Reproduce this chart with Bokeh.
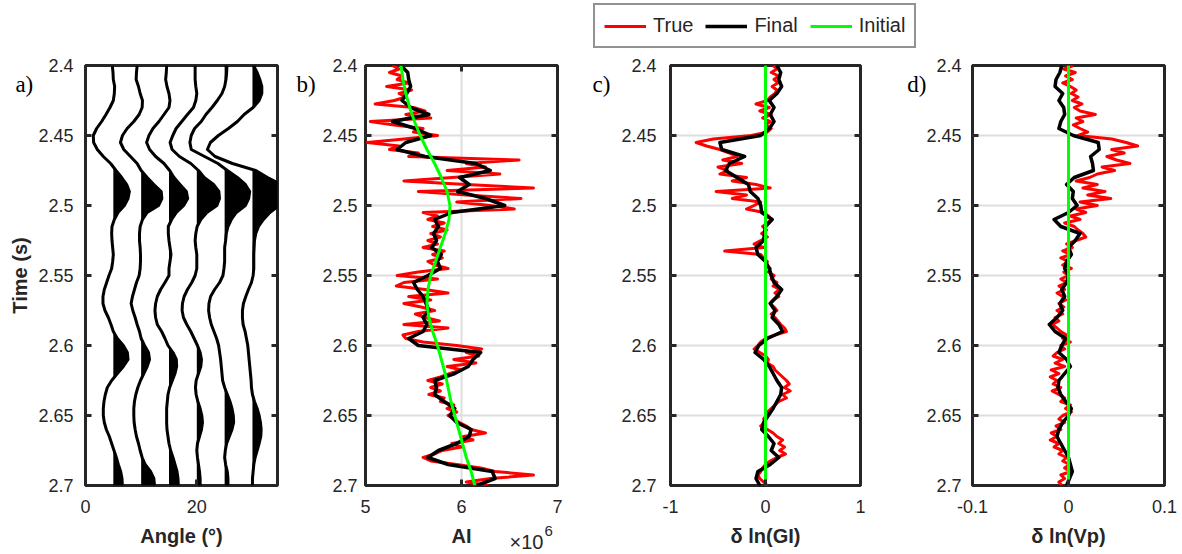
import numpy as np
from bokeh.plotting import figure
from bokeh.models import Range1d, FixedTicker, Label, Legend, LegendItem
from bokeh.layouts import column, row
from bokeh.embed import file_html
from bokeh.resources import INLINE

# ---------------- data ----------------
TIME_TICKS = [2.4, 2.45, 2.5, 2.55, 2.6, 2.65, 2.7]
TIME_LABELS = ["2.4", "2.45", "2.5", "2.55", "2.6", "2.65", "2.7"]

# sample times (regular grids)
TIME_W = np.round(np.linspace(2.4, 2.7, 61), 4)     # 5 ms: wiggles / final models
TIME_T = np.round(np.linspace(2.4, 2.7, 121), 5)    # 2.5 ms: true logs
TIME_I = np.round(np.linspace(2.4, 2.7, 31), 4)     # 10 ms: initial AI model
TIME_ENDS = [2.4, 2.7]

# a) angle gather (amplitudes, arbitrary units)
TRACE_ANGLES = [5, 10, 15, 20, 25, 30]
TRACE_05 = [-0.03,-0.01,0.00,0.04,0.03,0.00,-0.10,-0.22,-0.35,-0.50,-0.60,-0.59,-0.48,-0.30,-0.08,0.08,0.25,0.40,0.48,0.44,0.33,0.14,0.03,-0.04,-0.05,-0.04,-0.02,0.00,-0.02,-0.05,
            -0.13,-0.20,-0.27,-0.31,-0.31,-0.25,-0.15,-0.07,0.00,0.12,0.30,0.42,0.44,0.30,0.12,-0.05,-0.18,-0.24,-0.28,-0.30,-0.30,-0.27,-0.21,-0.12,-0.05,0.02,0.09,0.15,0.22,0.26,0.27]
TRACE_10 = [-0.12,-0.14,-0.15,-0.08,-0.03,0.04,0.03,-0.06,-0.22,-0.42,-0.56,-0.62,-0.52,-0.32,-0.12,0.00,0.18,0.38,0.60,0.62,0.52,0.18,0.04,-0.03,-0.05,-0.05,-0.03,-0.02,-0.02,-0.03,
            -0.06,-0.14,-0.20,-0.26,-0.30,-0.25,-0.18,-0.12,-0.05,0.00,0.10,0.22,0.25,0.18,0.08,-0.02,-0.10,-0.16,-0.20,-0.22,-0.22,-0.21,-0.18,-0.14,-0.08,-0.03,0.03,0.12,0.28,0.38,0.40]
TRACE_15 = [-0.07,-0.08,-0.10,-0.06,0.00,0.03,0.00,-0.15,-0.30,-0.48,-0.60,-0.67,-0.58,-0.40,-0.15,0.02,0.15,0.33,0.52,0.56,0.44,0.22,0.08,-0.02,-0.02,0.00,0.03,0.06,0.03,0.00,
            0.00,-0.12,-0.25,-0.35,-0.40,-0.42,-0.40,-0.35,-0.22,-0.12,-0.03,0.12,0.22,0.23,0.18,0.10,0.02,-0.03,-0.05,-0.07,-0.07,-0.07,-0.06,-0.03,0.00,0.05,0.12,0.18,0.24,0.27,0.28]
TRACE_20 = [-0.05,-0.05,-0.05,-0.03,0.00,-0.03,-0.10,-0.28,-0.45,-0.62,-0.72,-0.80,-0.74,-0.52,-0.18,0.05,0.22,0.50,0.66,0.68,0.60,0.30,0.12,0.01,-0.03,-0.05,-0.03,0.00,0.00,0.00,
            -0.05,-0.15,-0.28,-0.38,-0.43,-0.44,-0.40,-0.30,-0.18,-0.08,0.02,0.10,0.14,0.12,0.05,-0.02,-0.04,-0.02,0.03,0.10,0.15,0.17,0.14,0.08,0.02,0.00,0.02,0.05,0.08,0.10,0.10]
TRACE_25 = [0.07,0.06,0.04,0.00,-0.08,-0.22,-0.38,-0.56,-0.70,-0.90,-1.00,-1.04,-1.00,-0.60,-0.20,0.08,0.38,0.62,0.75,0.72,0.62,0.35,0.20,0.10,0.05,0.03,0.00,0.00,0.00,-0.02,
            -0.05,-0.15,-0.30,-0.42,-0.47,-0.48,-0.45,-0.40,-0.32,-0.24,-0.18,-0.15,-0.12,-0.10,-0.08,-0.06,0.00,0.08,0.16,0.22,0.26,0.27,0.22,0.14,0.06,0.02,0.00,0.03,0.08,0.10,0.10]
TRACE_30 = [0.03,0.14,0.22,0.28,0.28,0.20,0.02,-0.25,-0.45,-0.72,-1.02,-1.26,-1.35,-1.12,-0.60,0.10,0.45,0.85,0.95,0.92,0.80,0.52,0.33,0.18,0.10,0.06,0.05,0.04,0.04,0.04,
            0.02,-0.03,-0.12,-0.20,-0.27,-0.30,-0.30,-0.28,-0.22,-0.18,-0.14,-0.12,-0.10,-0.08,-0.06,-0.04,-0.03,0.00,0.06,0.14,0.20,0.24,0.26,0.25,0.20,0.14,0.08,0.04,0.02,0.00,0.00]

# b) acoustic impedance (x 1e6)
AI_TRUE = [5.28,5.35,5.25,5.38,5.33,5.45,5.22,5.48,5.35,5.42,5.30,5.10,5.50,5.62,5.42,5.68,5.05,5.30,5.60,5.50,
           5.75,5.40,5.02,5.35,5.25,5.55,5.45,6.60,6.05,6.25,5.85,6.40,5.90,5.40,6.05,6.75,5.55,6.05,6.62,5.95,
           6.30,6.55,5.60,5.75,5.65,5.82,5.70,5.85,5.68,5.78,5.65,5.75,5.60,5.82,5.70,5.80,5.65,5.72,5.86,5.55,
           5.33,5.75,5.40,5.32,5.62,5.86,5.45,5.68,5.40,5.58,5.72,5.52,5.62,5.77,5.40,5.86,5.55,5.39,5.42,5.60,
           5.95,6.21,6.05,6.18,5.92,6.15,5.85,6.00,5.88,5.78,5.65,5.80,5.68,5.78,5.66,5.82,5.78,5.92,5.85,5.95,
           5.86,5.92,5.98,6.05,6.10,6.25,6.02,6.12,5.90,6.00,5.80,5.72,5.60,5.68,5.95,6.20,6.35,6.75,6.30,6.05,6.28]
AI_FINAL = [5.37,5.44,5.45,5.47,5.43,5.38,5.47,5.66,5.28,5.52,5.68,5.42,5.33,5.62,6.15,6.30,5.98,6.08,5.96,6.25,
            6.45,5.90,5.72,5.76,5.71,5.74,5.69,5.79,5.75,5.78,5.65,5.50,5.54,5.60,5.63,5.66,5.60,5.64,5.60,5.45,
            5.55,6.20,6.12,6.07,5.93,5.72,5.74,5.72,5.82,5.93,5.88,5.95,6.10,6.08,5.95,5.76,5.65,5.86,6.32,6.35,6.16]
AI_INIT = [5.37,5.39,5.42,5.46,5.51,5.57,5.64,5.72,5.79,5.85,5.88,5.87,5.83,5.78,5.73,5.68,
           5.65,5.64,5.66,5.70,5.75,5.79,5.83,5.86,5.89,5.93,5.97,6.01,6.05,6.10,6.14]

# c) delta ln(GI)
GI_TRUE = [0.08,0.12,0.06,0.14,0.09,0.13,0.07,0.12,0.10,0.05,0.02,-0.10,0.04,-0.06,0.06,-0.03,0.05,0.00,0.06,0.02,
           -0.15,-0.55,-0.73,-0.62,-0.48,-0.38,-0.30,-0.45,-0.25,-0.50,-0.40,-0.48,-0.20,-0.35,-0.10,0.05,-0.52,-0.20,-0.35,-0.05,
           -0.12,-0.20,-0.02,0.03,0.06,0.02,-0.03,0.01,-0.04,0.02,-0.05,-0.12,-0.02,-0.43,-0.05,-0.02,0.02,0.00,0.05,0.03,
           0.09,0.06,0.12,0.08,0.15,0.10,0.14,0.08,0.05,0.09,0.12,0.06,0.10,0.13,0.16,0.20,0.22,0.10,0.00,-0.05,
           -0.08,-0.12,-0.06,0.00,0.03,0.02,0.08,0.10,0.14,0.18,0.22,0.25,0.20,0.26,0.18,0.22,0.14,0.10,0.06,0.02,
           0.01,-0.02,0.00,-0.05,0.02,0.08,0.12,0.18,0.14,0.20,0.15,0.21,0.12,0.05,0.00,-0.03,-0.05,-0.08,-0.06,-0.02,0.02]
GI_FINAL = [0.12,0.16,0.14,0.17,0.12,0.04,0.09,0.05,0.09,0.04,-0.05,-0.48,-0.46,-0.22,-0.38,-0.42,-0.30,-0.18,-0.16,-0.08,
            -0.05,-0.04,0.07,0.00,-0.01,-0.02,-0.10,-0.08,0.00,0.04,0.06,0.09,0.17,0.12,0.05,0.10,0.07,0.14,0.18,0.02,
            -0.07,-0.11,-0.02,0.04,0.08,0.12,0.17,0.16,0.12,0.08,0.03,-0.02,-0.04,0.03,0.09,0.06,0.14,0.05,-0.08,-0.10,-0.06]
GI_INIT = [0.0, 0.0]

# d) delta ln(Vp)
VP_TRUE = [0.005,-0.005,0.007,-0.003,0.004,-0.006,0.002,0.008,0.003,0.010,0.004,0.014,0.006,0.012,0.028,0.008,0.015,0.005,0.012,0.020,
           0.010,0.045,0.060,0.072,0.045,0.058,0.040,0.050,0.064,0.035,0.048,0.030,0.022,0.008,0.030,0.015,0.038,0.020,0.044,0.012,
           0.030,0.008,0.018,0.002,0.012,-0.004,0.006,0.010,0.015,0.018,0.008,-0.002,0.004,-0.006,0.002,-0.008,0.000,-0.006,0.003,-0.005,
           0.000,-0.008,-0.002,-0.010,-0.004,-0.012,-0.006,-0.003,-0.010,-0.005,-0.012,-0.006,-0.014,-0.010,-0.017,-0.012,-0.008,-0.002,-0.006,0.002,
           -0.008,-0.004,-0.012,-0.016,-0.006,-0.014,-0.004,-0.018,-0.010,-0.019,-0.012,-0.016,-0.008,-0.017,-0.010,-0.004,-0.008,0.002,-0.003,0.003,
           -0.006,-0.010,-0.004,-0.013,-0.008,-0.018,-0.012,-0.019,-0.010,-0.015,-0.006,-0.010,-0.002,-0.006,0.001,-0.004,0.002,-0.008,-0.004,-0.010,-0.007]
VP_FINAL = [-0.007,-0.009,-0.013,-0.014,-0.006,-0.010,-0.005,-0.004,-0.008,-0.010,0.005,0.031,0.032,0.023,0.025,0.026,0.006,-0.002,0.005,0.004,
            0.009,0.000,-0.015,-0.008,0.012,0.007,0.000,0.003,-0.002,-0.004,0.000,-0.002,-0.007,-0.004,-0.009,-0.006,-0.012,-0.020,-0.014,-0.003,
            -0.007,-0.010,-0.002,0.002,-0.004,-0.010,-0.011,-0.008,-0.003,0.003,0.000,-0.006,-0.010,-0.012,-0.008,-0.004,0.000,0.002,0.004,0.001,-0.002]
VP_INIT = [0.0, 0.0]

# ---------------- styling ----------------
SANS = "Liberation Sans"
SERIF = "Liberation Serif"
INK = "#262626"
RED, BLACK, GREEN = "#ff0000", "#000000", "#00ff00"
GAIN = 6.0  # wiggle display gain (degrees per amplitude unit)


def panel(width, height, top, left, right, xr, xticks, xlabels, xlabel, ystand,
          grid=True, ylabel=None, top_ticks=True):
    p = figure(width=width, height=height, x_range=Range1d(*xr), y_range=Range1d(2.7, 2.4),
               output_backend="svg", toolbar_location=None,
               min_border_left=left, min_border_right=right, min_border_top=top,
               min_border_bottom=69)
    p.outline_line_color = INK
    p.outline_line_width = 3
    p.background_fill_color = "white"
    p.border_fill_color = "white"
    xt = FixedTicker(ticks=xticks)
    yt = FixedTicker(ticks=TIME_TICKS)
    xa = p.xaxis[0]
    ya = p.yaxis[0]
    xa.ticker = xt
    ya.ticker = yt
    xa.major_label_overrides = dict(zip(xticks, xlabels))
    ya.major_label_overrides = dict(zip(TIME_TICKS, TIME_LABELS))
    for ax in (xa, ya):
        ax.axis_line_color = None
        ax.major_tick_in = 6
        ax.major_tick_out = 0
        ax.major_tick_line_color = INK
        ax.major_tick_line_width = 3
        ax.minor_tick_line_color = None
        ax.major_label_text_font = SANS
        ax.major_label_text_font_size = "18px"
        ax.major_label_text_color = INK
        ax.axis_label_text_font = SANS
        ax.axis_label_text_font_style = "bold"
        ax.axis_label_text_font_size = "20px"
        ax.axis_label_text_color = INK
    xa.axis_label = xlabel
    xa.major_label_standoff = 14
    xa.axis_label_standoff = 9
    ya.major_label_standoff = ystand
    if ylabel:
        ya.axis_label = ylabel
        ya.axis_label_standoff = 4
    # mirrored inward ticks on the right (and top) edges of the box
    p.scatter(x=[xr[1]] * len(TIME_TICKS), y=TIME_TICKS, marker="dash", size=12,
              line_color=INK, line_width=3)
    if top_ticks:
        inner = [v for v in xticks if xr[0] < v < xr[1]]
        p.scatter(x=inner, y=[2.4] * len(inner), marker="dash", angle=np.pi / 2, size=12,
                  line_color=INK, line_width=3)
    if grid:
        p.xgrid.ticker = xt
        p.ygrid.ticker = yt
        p.grid.grid_line_color = "#dedede"
        p.grid.grid_line_width = 2
    else:
        p.grid.grid_line_color = None
    return p


def text(p, side, x, y, txt, font, size, color):
    # placed in a side panel so that it is not clipped to the plot frame
    p.add_layout(Label(x=x, y=y, text=txt, text_font=font, text_font_size=size,
                       text_color=color, text_baseline="middle", text_align="left"), side)


# ---- a) gather ----
fa = panel(290, 554, 65, 85, 13, (0, 34.5), [0, 20], ["0", "20"], "Angle (°)", 12, grid=False,
           ylabel="Time (s)", top_ticks=False)
for base, amp in zip(TRACE_ANGLES, [TRACE_05, TRACE_10, TRACE_15, TRACE_20, TRACE_25, TRACE_30]):
    a = np.array(amp) * GAIN
    t = TIME_W
    ts, xs = [], []
    for i in range(len(t)):
        if i > 0 and (a[i - 1] > 0) != (a[i] > 0) and a[i - 1] != a[i]:
            f = a[i - 1] / (a[i - 1] - a[i])
            ts.append(t[i - 1] + f * (t[i] - t[i - 1]))
            xs.append(0.0)
        ts.append(t[i])
        xs.append(max(a[i], 0.0))
    xs = np.array(xs)
    fa.harea(y=ts, x1=np.full(len(xs), float(base)), x2=base + xs, fill_color="black", fill_alpha=1)
    fa.line(base + a, t, line_color="black", line_width=3, line_join="round")
text(fa, "above", -12.6, 2.4136, "a)", SERIF, "23px", "black")

# ---- b) AI ----
fb = panel(295, 554, 65, 75, 28, (5, 7), [5, 6, 7], ["5", "6", "7"], "AI", 8)
fb.line(AI_TRUE, TIME_T, line_color=RED, line_width=3, line_join="round")
fb.line(AI_FINAL, TIME_W, line_color=BLACK, line_width=3.5, line_join="round")
fb.line(AI_INIT, TIME_I, line_color=GREEN, line_width=3, line_join="round")
text(fb, "above", 4.28, 2.4136, "b)", SERIF, "23px", "black")
text(fb, "above", 6.50, 2.7405, "×10", SANS, "20px", INK)
text(fb, "left", 6.865, 2.7325, "6", SANS, "15px", INK)

# ---- c) GI ----
fc = panel(311, 502, 13, 85, 36, (-1, 1), [-1, 0, 1], ["-1", "0", "1"], "δ ln(GI)", 14)
fc.line(GI_TRUE, TIME_T, line_color=RED, line_width=3, line_join="round")
fc.line(GI_FINAL, TIME_W, line_color=BLACK, line_width=3.5, line_join="round")
fc.line(GI_INIT, TIME_ENDS, line_color=GREEN, line_width=3)
text(fc, "left", -1.82, 2.4136, "c)", SERIF, "23px", "black")

# ---- d) Vp ----
fd = panel(286, 502, 13, 76, 18, (-0.1, 0.1), [-0.1, 0, 0.1], ["-0.1", "0", "0.1"], "δ ln(Vp)", 11)
fd.line(VP_TRUE, TIME_T, line_color=RED, line_width=3, line_join="round")
fd.line(VP_FINAL, TIME_W, line_color=BLACK, line_width=3.5, line_join="round")
fd.line(VP_INIT, TIME_ENDS, line_color=GREEN, line_width=3)
text(fd, "left", -0.168, 2.4136, "d)", SERIF, "23px", "black")

# ---- legend strip (above panels c and d) ----
lf = figure(width=597, height=52, x_range=Range1d(0, 1), y_range=Range1d(0, 1),
            output_backend="svg", toolbar_location=None,
            x_axis_location=None, y_axis_location=None, min_border=0)
lf.grid.visible = False
lf.outline_line_color = None
r_true = lf.line(x=[0, 1], y=[-5, -5], line_color=RED, line_width=3)
r_final = lf.line(x=[0, 1], y=[-5, -5], line_color=BLACK, line_width=3.5)
r_init = lf.line(x=[0, 1], y=[-5, -5], line_color=GREEN, line_width=3)
leg = Legend(items=[LegendItem(label="True", renderers=[r_true]),
                    LegendItem(label="Final", renderers=[r_final]),
                    LegendItem(label="Initial", renderers=[r_init])],
             orientation="horizontal", location=(8, 4),
             glyph_width=42, glyph_height=18, label_height=18, label_standoff=7,
             spacing=12, padding=9, margin=0,
             border_line_color=INK, border_line_width=2,
             label_text_font=SANS, label_text_font_size="20px", label_text_color=INK,
             background_fill_color="white", background_fill_alpha=1)
lf.add_layout(leg, "center")

layout = row(fa, fb, column(lf, row(fc, fd)))
open("out.html", "w").write(file_html(layout, INLINE))
